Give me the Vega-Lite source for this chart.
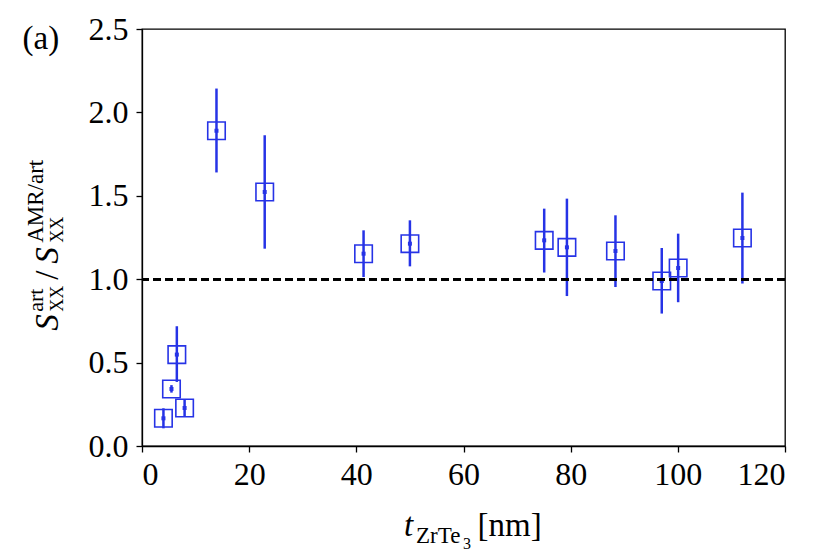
{
  "$schema": "https://vega.github.io/schema/vega-lite/v6.json",
  "width": 643,
  "height": 417,
  "autosize": {"type": "none"},
  "padding": {"left": 142, "top": 29, "right": 45, "bottom": 112},
  "background": "white",
  "config": {
    "font": "Liberation Serif",
    "view": {"stroke": "black", "strokeWidth": 1.3},
    "axis": {
      "grid": false,
      "labelFont": "Liberation Serif",
      "titleFont": "Liberation Serif",
      "titleColor": "black",
      "titleFontWeight": "normal",
      "titleAlign": "left",
      "titleBaseline": "alphabetic",
      "titlePadding": 0
    }
  },
  "datasets": {
    "pts": [
      {"t": 4.0, "r": 0.166, "lo": 0.106, "hi": 0.226},
      {"t": 5.5, "r": 0.342, "lo": 0.32, "hi": 0.365},
      {"t": 6.5, "r": 0.548, "lo": 0.384, "hi": 0.718},
      {"t": 7.95, "r": 0.228, "lo": 0.176, "hi": 0.28},
      {"t": 13.9, "r": 1.89, "lo": 1.64, "hi": 2.143},
      {"t": 22.9, "r": 1.523, "lo": 1.183, "hi": 1.863},
      {"t": 41.35, "r": 1.153, "lo": 1.013, "hi": 1.293},
      {"t": 50.0, "r": 1.213, "lo": 1.077, "hi": 1.353},
      {"t": 75.06, "r": 1.233, "lo": 1.04, "hi": 1.423},
      {"t": 79.3, "r": 1.191, "lo": 0.899, "hi": 1.483},
      {"t": 88.36, "r": 1.169, "lo": 0.953, "hi": 1.383},
      {"t": 97.0, "r": 0.989, "lo": 0.794, "hi": 1.187},
      {"t": 100.06, "r": 1.067, "lo": 0.862, "hi": 1.273},
      {"t": 112.05, "r": 1.247, "lo": 0.974, "hi": 1.519}
    ]
  },
  "data": {"name": "pts"},
  "layer": [
    {
      "mark": {"type": "rule", "color": "#2633e6", "strokeWidth": 2.5},
      "encoding": {
        "x": {
          "field": "t", "type": "quantitative",
          "scale": {"domain": [0, 120], "nice": false, "zero": false},
          "axis": {
            "orient": "bottom",
            "values": [0, 20, 40, 60, 80, 100, 120],
            "format": "d",
            "tickSize": 6, "tickWidth": 1.3, "tickColor": "black",
            "domainColor": "black", "domainWidth": 1.3,
            "labelFontSize": 32, "labelColor": "black", "labelPadding": 7,
            "title": "t", "titleFontStyle": "italic", "titleFontSize": 33,
            "titleX": 261.5, "titleY": 89.5, "titleAngle": 0
          }
        },
        "y": {
          "field": "lo", "type": "quantitative",
          "scale": {"domain": [0, 2.5], "nice": false, "zero": false},
          "axis": {
            "orient": "left",
            "values": [0, 0.5, 1, 1.5, 2, 2.5],
            "format": ".1f",
            "tickSize": 6, "tickWidth": 1.3, "tickColor": "black",
            "domainColor": "black", "domainWidth": 1.3,
            "labelFontSize": 32, "labelColor": "black", "labelPadding": 8,
            "title": "S", "titleFontStyle": "italic", "titleFontSize": 33,
            "titleX": -84.7, "titleY": 301.3, "titleAngle": 270
          }
        },
        "y2": {"field": "hi"}
      }
    },
    {
      "mark": {"type": "point", "shape": "square", "filled": false, "size": 306, "stroke": "#2633e6", "strokeWidth": 1.6, "opacity": 1},
      "encoding": {
        "x": {
          "field": "t", "type": "quantitative",
          "scale": {"domain": [0, 120], "nice": false, "zero": false},
          "axis": {
            "orient": "bottom", "ticks": false, "labels": false, "domain": false,
            "title": "ZrTe", "titleFontSize": 23,
            "titleX": 273.5, "titleY": 96, "titleAngle": 0
          }
        },
        "y": {
          "field": "r", "type": "quantitative",
          "scale": {"domain": [0, 2.5], "nice": false, "zero": false},
          "axis": {
            "orient": "left", "ticks": false, "labels": false, "domain": false,
            "title": "XX", "titleFontSize": 18,
            "titleX": -79.7, "titleY": 282.3, "titleAngle": 270
          }
        }
      }
    },
    {
      "mark": {"type": "point", "shape": "square", "filled": true, "size": 16, "color": "#2633e6", "opacity": 1},
      "encoding": {
        "x": {
          "field": "t", "type": "quantitative",
          "scale": {"domain": [0, 120], "nice": false, "zero": false},
          "axis": {
            "orient": "bottom", "ticks": false, "labels": false, "domain": false,
            "title": "3", "titleFontSize": 16,
            "titleX": 320.5, "titleY": 102, "titleAngle": 0
          }
        },
        "y": {
          "field": "r", "type": "quantitative",
          "scale": {"domain": [0, 2.5], "nice": false, "zero": false},
          "axis": {
            "orient": "left", "ticks": false, "labels": false, "domain": false,
            "title": "art", "titleFontSize": 22,
            "titleX": -99.7, "titleY": 282.3, "titleAngle": 270
          }
        }
      }
    },
    {
      "mark": {"type": "rule", "color": "black", "strokeWidth": 2, "strokeDash": [8, 4]},
      "encoding": {
        "y": {
          "datum": 1, "type": "quantitative",
          "scale": {"domain": [0, 2.5], "nice": false, "zero": false},
          "axis": {
            "orient": "left", "ticks": false, "labels": false, "domain": false,
            "title": "/", "titleFontSize": 33,
            "titleX": -84.7, "titleY": 250.3, "titleAngle": 270
          }
        }
      }
    },
    {
      "mark": {"type": "point", "opacity": 0},
      "encoding": {
        "x": {
          "field": "t", "type": "quantitative",
          "scale": {"domain": [0, 120], "nice": false, "zero": false},
          "axis": {
            "orient": "bottom", "ticks": false, "labels": false, "domain": false,
            "title": "[nm]", "titleFontSize": 33,
            "titleX": 335, "titleY": 89.5, "titleAngle": 0
          }
        },
        "y": {
          "field": "r", "type": "quantitative",
          "scale": {"domain": [0, 2.5], "nice": false, "zero": false},
          "axis": {
            "orient": "left", "ticks": false, "labels": false, "domain": false,
            "title": "S", "titleFontStyle": "italic", "titleFontSize": 33,
            "titleX": -84.7, "titleY": 234.3, "titleAngle": 270
          }
        }
      }
    },
    {
      "mark": {"type": "point", "opacity": 0},
      "encoding": {
        "x": {
          "field": "t", "type": "quantitative",
          "scale": {"domain": [0, 120], "nice": false, "zero": false},
          "axis": {
            "orient": "top", "ticks": false, "labels": false, "domain": false,
            "title": "(a)", "titleFontSize": 33,
            "titleX": -120, "titleY": 19.3, "titleAngle": 0
          }
        },
        "y": {
          "field": "r", "type": "quantitative",
          "scale": {"domain": [0, 2.5], "nice": false, "zero": false},
          "axis": {
            "orient": "left", "ticks": false, "labels": false, "domain": false,
            "title": "XX", "titleFontSize": 18,
            "titleX": -79.7, "titleY": 213.3, "titleAngle": 270
          }
        }
      }
    },
    {
      "mark": {"type": "point", "opacity": 0},
      "encoding": {
        "x": {
          "field": "t", "type": "quantitative",
          "scale": {"domain": [0, 120], "nice": false, "zero": false},
          "axis": null
        },
        "y": {
          "field": "r", "type": "quantitative",
          "scale": {"domain": [0, 2.5], "nice": false, "zero": false},
          "axis": {
            "orient": "left", "ticks": false, "labels": false, "domain": false,
            "title": "AMR/art", "titleFontSize": 23,
            "titleX": -99.7, "titleY": 213.3, "titleAngle": 270
          }
        }
      }
    }
  ],
  "resolve": {"axis": {"x": "independent", "y": "independent"}}
}
